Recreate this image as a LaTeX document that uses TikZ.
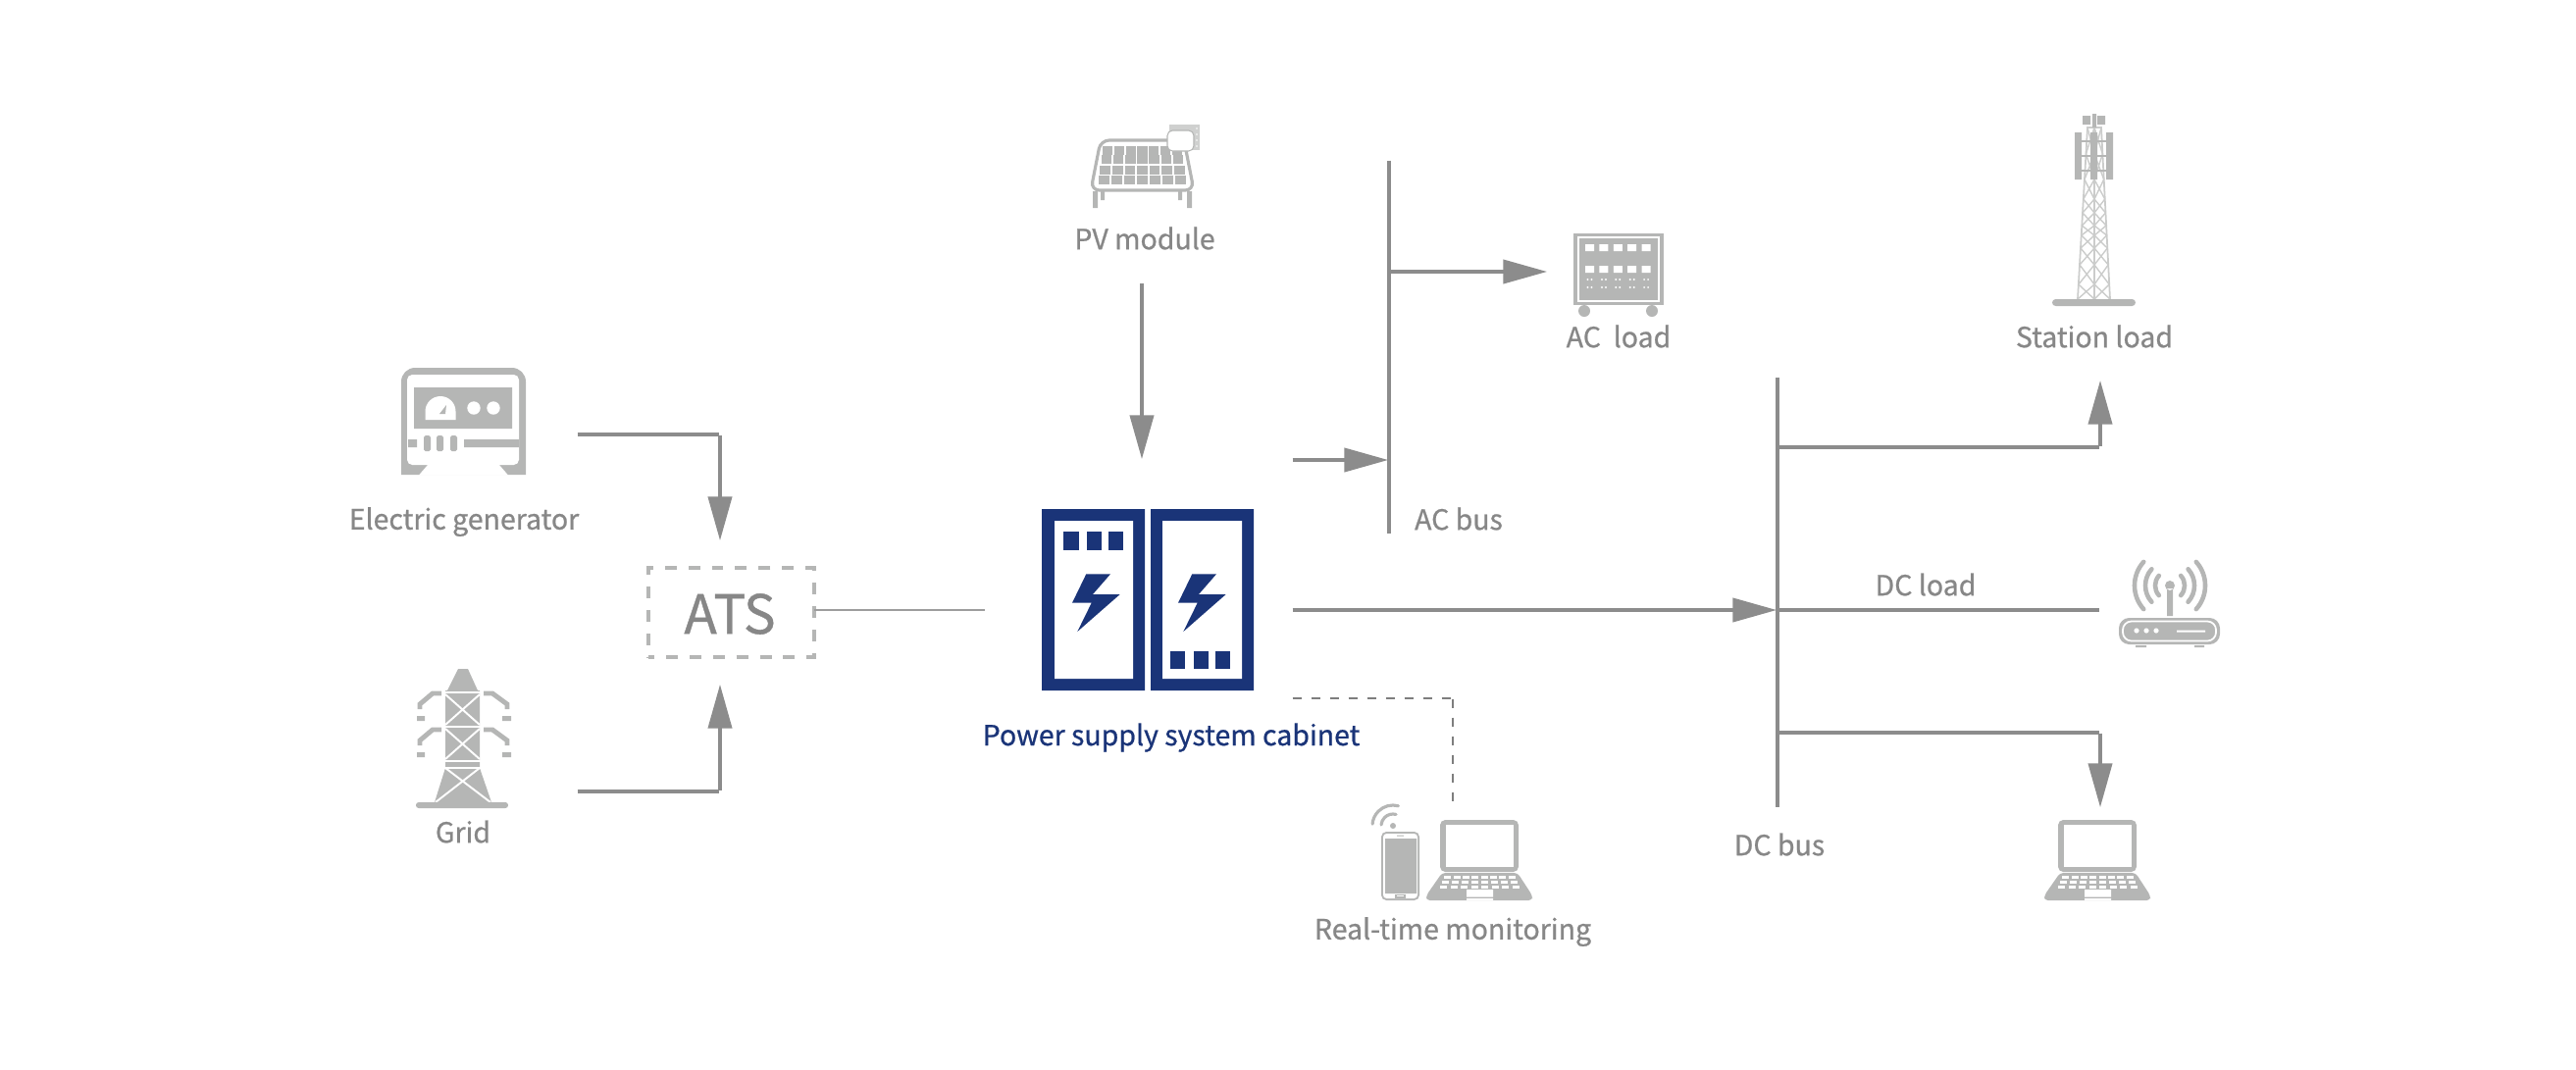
\documentclass[tikz,border=0pt]{standalone}
\usepackage{fontspec}
\setmainfont{Noto Sans CJK SC}[RawFeature={embolden=0.7}]
\usetikzlibrary{arrows.meta}
\definecolor{linegray}{HTML}{8C8C8C}
\definecolor{icongray}{HTML}{B5B6B5}
\definecolor{textgray}{HTML}{878787}
\definecolor{cabinetblue}{HTML}{1A3478}

\begin{document}
\begin{tikzpicture}
	% Styles
	[
	x=0.01cm,y=-0.01cm,
	point/.style={circle,inner sep=0pt,minimum size=0mm},
	txt/.style={inner sep=0pt,text=textgray,font=\fontsize{8.1}{10}\selectfont},
	bus/.style={draw=linegray,line width=1.25pt},
	feed/.style={bus,-{Triangle[length=12.8pt,width=6.8pt]}},
	wave/.style={draw=icongray,line width=1.3pt,line cap=round},
	brace/.style={draw=icongray!70,line width=0.4pt},
	laptopicon/.pic={
		\fill[icongray,rounded corners=1.5pt] (14,0) rectangle (94,53);
		\fill[white] (20,5) rectangle (89,48);
		\fill[icongray,rounded corners=1pt] (16,54) -- (93,54) -- (108,77) -- (108,82) -- (0,82) -- (0,77) -- cycle;
		\foreach \r in {0,1,2} \foreach \c in {0,...,7}
			\fill[white] ({54.5+(\c-3.5)*(9.3+\r*0.6)-3.5},{57+\r*5}) rectangle +(7,3);
		\fill[white] (41,71) rectangle (68,78.5) (41,80) rectangle (68,82);
	},
	]

	\useasboundingbox (0,0) rectangle (2626,1090);

	% Nodes
	\node at (745.5,624.5) (ats) [draw=icongray,line width=1.25pt,dash pattern=on 3.4pt off 3.4pt,dash phase=1.7pt,minimum width=1.69cm,minimum height=0.91cm,inner sep=0pt,outer sep=0pt] {};
	\node at (588,443) (gen1) [point] {};
	\node at (734,443) (gen2) [point] {};
	\node at (734,552) (gen3) [point] {};
	\node at (588,807) (grid1) [point] {};
	\node at (734,807) (grid2) [point] {};
	\node at (734,697) (grid3) [point] {};
	\node at (1005,622) (cab1) [point] {};
	\node at (1317,622) (cab2) [point] {};
	\node at (1317,469) (cab3) [point] {};
	\node at (1317,712) (cab4) [point] {};
	\node at (1481,712) (mon1) [point] {};
	\node at (1481,824) (mon2) [point] {};
	\node at (1164,288) (pv1) [point] {};
	\node at (1164,469) (pv2) [point] {};
	\node at (1416,163) (ac1) [point] {};
	\node at (1416,545) (ac2) [point] {};
	\node at (1416,277) (ac3) [point] {};
	\node at (1416,469) (ac4) [point] {};
	\node at (1578,277) (acl) [point] {};
	\node at (1812,384) (dc1) [point] {};
	\node at (1812,824) (dc2) [point] {};
	\node at (1812,622) (dc3) [point] {};
	\node at (1812,456) (dc4) [point] {};
	\node at (1812,747) (dc5) [point] {};
	\node at (2141,622) (dcl) [point] {};
	\node at (2141,456) (st1) [point] {};
	\node at (2141,387) (st2) [point] {};
	\node at (2141,747) (lp1) [point] {};
	\node at (2141,824) (lp2) [point] {};

	% Arrows
	\draw[feed] (gen1) -- (gen2) -- (gen3);
	\draw[feed] (grid1) -- (grid2) -- (grid3);
	\draw[draw=linegray!85,line width=0.7pt] (ats.east |- cab1) -- (cab1);
	\draw[feed] (pv1) -- (pv2);
	\draw[feed] (cab3) -- (ac4);
	\draw[bus] (ac1) -- (ac2);
	\draw[feed] (ac3) -- (acl);
	\draw[feed] (cab2) -- (dc3);
	\draw[bus] (dc1) -- (dc2);
	\draw[bus] (dc3) -- (dcl);
	\draw[feed] (dc4) -- (st1) -- (st2);
	\draw[feed] (dc5) -- (lp1) -- (lp2);
	\draw[draw=linegray!90!black,line width=0.75pt,dash pattern=on 2.6pt off 2.8pt] (cab4) -- (mon1) -- (mon2);

	% Cabinet
	\fill[cabinetblue] (1062,519) rectangle (1167,704) (1173,519) rectangle (1278,704);
	\fill[white] (1075,531) rectangle (1155,692) (1185,531) rectangle (1266,692);
	\foreach \x/\w in {1084/16,1108/15,1130/15} \fill[cabinetblue] (\x,542) rectangle +(\w,19);
	\foreach \x/\w in {1193/15,1217/15,1239/15} \fill[cabinetblue] (\x,664) rectangle +(\w,18);
	\foreach \s in {0,108}
		\fill[cabinetblue,xshift=\s*0.01cm] (1107.3,585.3) -- (1132,585.3) -- (1114,606) -- (1141.7,606) -- (1098.3,644) -- (1112.7,614.7) -- (1093,614.7) -- cycle;

	% Generator
	\fill[icongray] (409,484) [rounded corners=4pt] -- (409,375) -- (536,375) [sharp corners] -- (536,484) -- cycle;
	\fill[white,rounded corners=1.5pt] (415,474) -- (415,382) -- (529,382) -- (529,474) -- cycle;
	\fill[white] (427,484.5) -- (436,474) -- (509,474) -- (518,484.5) -- cycle;
	\fill[icongray] (422,395) rectangle (522,437) (416,448) rectangle (425,456) (473,448) rectangle (529,456);
	\fill[white] (433.5,428) -- (433.5,419.5) arc[start angle=180,end angle=0,radius=0.155cm] -- (464.5,428) -- cycle;
	\fill[icongray] (448,422) -- (455,413) -- (454,422) -- cycle;
	\fill[white] (483,416) circle[radius=6.7] (503,416) circle[radius=6.7];
	\foreach \x in {432,445,459} \fill[icongray,rounded corners=0.5pt] (\x,444) rectangle +(7,16);

	% Grid tower
	\fill[icongray] (467,682) -- (477,682) -- (487,704) -- (489,704) -- (489,783) -- (501,818) -- (443,818) -- (454,783) -- (454,704) -- (456,704) -- cycle;
	\draw[white,line width=0.55pt] (452,706) -- (491,706) (452,741) -- (491,741) (452,776) -- (491,776) (452,783) -- (491,783)
		(454,708) -- (489,739) (489,708) -- (454,739) (454,743) -- (489,774) (489,743) -- (454,774) (454,783) -- (500,818) (489,783) -- (444,818);
	\foreach \d in {0,37} {
		\draw[draw=icongray,line width=1.4pt,yshift=-\d*0.01cm] (450,707) -- (441,707) -- (428,718) -- (428,723) (493,707) -- (502,707) -- (517,718) -- (517,723);
		\fill[icongray,yshift=-\d*0.01cm] (425,730) rectangle (433,735) (512,730) rectangle (521,735);
	}
	\fill[icongray,rounded corners=0.8pt] (424,818) rectangle (518,824);

	% PV panel
	\fill[icongray!65] (1192,127) rectangle (1223,153);
	\foreach \y in {131,137,143,149} \fill[white] (1220,\y) circle[radius=0.8];
	\draw[draw=icongray,line width=0.9pt,rounded corners=2.5pt] (1190,143) -- (1122,143) -- (1112,194) -- (1217,194) -- (1207,143);
	\foreach \ya/\l/\r in {149/1123/1206,158/1122/1207,169/1120.5/1208.5,179/1119/1210}
		\foreach \c in {0,...,6}
			\fill[icongray] ({\l+(\c+0.07)*(\r-\l)/7},\ya) rectangle ({\l+(\c+0.93)*(\r-\l)/7},\ya+8.5);
	\fill[icongray] (1114,195) rectangle (1119,212) (1122,195) rectangle (1126,204) (1201,195) rectangle (1205,204) (1210,195) rectangle (1215,212);
	\fill[white,draw=icongray,line width=0.3pt,rounded corners=1.5pt] (1190,133) rectangle (1217,154);

	% AC load
	\fill[icongray] (1604,238) rectangle (1696,311);
	\draw[white,line width=0.3pt] (1609,242) rectangle (1691,307);
	\foreach \c in {0,...,4} {
		\fill[white] ({1616+\c*14.4},249) rectangle +(9,7) ({1616+\c*14.4},271) rectangle +(9,7);
		\foreach \y in {285,293} \fill[white] ({1618.5+\c*14.4},\y) circle[radius=1.1] ({1622.5+\c*14.4},\y) circle[radius=1.1];
	}
	\fill[icongray] (1615,317) circle[radius=6] (1684,317) circle[radius=6];

	% Station tower
	\draw[brace,line width=0.5pt] (2118,305) -- (2128,130) -- (2142,130) -- (2151,305) (2135,130) -- (2135,305);
	\foreach \ya/\yb in {130/157,157/183,183/203,203/217,217/230,230/240,240/253,253/270,270/290,290/305} {
		\pgfmathsetmacro{\la}{2128-(\ya-130)*0.057}
		\pgfmathsetmacro{\lb}{2128-(\yb-130)*0.057}
		\pgfmathsetmacro{\ra}{2142+(\ya-130)*0.051}
		\pgfmathsetmacro{\rb}{2142+(\yb-130)*0.051}
		\draw[brace] (\la,\ya) -- (2135,\yb) (2135,\ya) -- (\lb,\yb) (\ra,\ya) -- (2135,\yb) (2135,\ya) -- (\rb,\yb);
	}
	\fill[icongray] (2115,135) rectangle (2122,183) (2147,135) rectangle (2154,183) (2131,135) rectangle (2138,183);
	\draw[draw=icongray,line width=0.5pt] (2122,144) -- (2147,144) (2122,159) -- (2147,159) (2122,174) -- (2147,174);
	\fill[icongray] (2123,118) rectangle (2131,127) (2138,118) rectangle (2146,127) (2133,116) rectangle (2137,130);
	\fill[icongray,rounded corners=1pt] (2092,305) rectangle (2177,312);

	% Router
	\foreach \r in {0.15,0.25,0.36} {
		\draw[wave] ([shift={(-42:\r cm)}]2212,597) arc[start angle=-42,end angle=42,radius=\r cm];
		\draw[wave] ([shift={(138:\r cm)}]2212,597) arc[start angle=138,end angle=222,radius=\r cm];
	}
	\fill[icongray] (2212,597) circle[radius=5] (2209,600) rectangle (2215,628);
	\fill[icongray,rounded corners=3pt] (2160,630) rectangle (2263,657);
	\draw[white,line width=0.5pt,rounded corners=2.5pt] (2164,633.5) rectangle (2259,653.5);
	\fill[white] (2178,643) circle[radius=2.6] (2188,643) circle[radius=2.6] (2198,643) circle[radius=2.6] (2219,642.5) rectangle (2248,644.5);
	\fill[icongray] (2177,658) rectangle (2188,660) (2237,658) rectangle (2247,660);

	% Monitoring icons
	\fill[icongray,rounded corners=1.5pt] (1408,848) rectangle (1447,918);
	\fill[white,rounded corners=1pt] (1410,850) rectangle (1445,916);
	\fill[icongray] (1412,855) rectangle (1444,911) (1424,851.5) rectangle (1431,852.5);
	\draw[draw=icongray,line width=0.3pt] (1423,912.5) rectangle (1432,915);
	\fill[icongray] (1420,842) circle[radius=3];
	\foreach \r in {0.12,0.21}
		\draw[wave,line width=0.9pt] ([shift={(75:\r cm)}]1420,842) arc[start angle=75,end angle=175,radius=\r cm];
	\pic at (1454,836) {laptopicon};
	\pic at (2084,836) {laptopicon};

	% Text
	\node at (473,532) (gentxt) [txt] {Electric generator};
	\node at (472,848) (gridtxt) [txt] {Grid};
	\node at (744,626) (atstxt) [txt,font=\fontsize{15.6}{18}\selectfont] {ATS};
	\node at (1167,243) (pvtxt) [txt] {PV module};
	\node at (1487,529) (acbtxt) [txt] {AC bus};
	\node at (1650,343) (acltxt) [txt] {AC~~load};
	\node at (1194,752) (cabtxt) [txt,text=cabinetblue] {Power supply system cabinet};
	\node at (1481,950) (montxt) [txt] {Real-time monitoring};
	\node at (1963,596) (dcltxt) [txt] {DC load};
	\node at (1814,861) (dcbtxt) [txt] {DC bus};
	\node at (2135,343) (sttxt) [txt] {Station load};
\end{tikzpicture}
\end{document}
